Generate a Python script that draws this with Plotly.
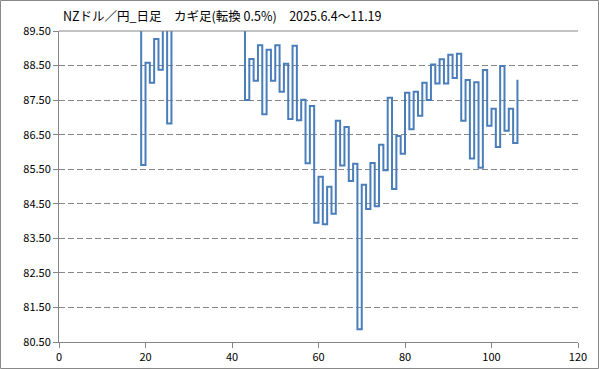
import plotly.graph_objects as go

# Kagi chart columns (x index) and turning levels (values above 89.5 are off-scale, hidden)
cols = [19, 20, 21, 22, 23, 24, 25, 26,
        43, 44, 45, 46, 47, 48, 49, 50, 51, 52, 53, 54, 55, 56, 57, 58, 59, 60,
        61, 62, 63, 64, 65, 66, 67, 68, 69, 70, 71, 72, 73, 74, 75, 76, 77, 78,
        79, 80, 81, 82, 83, 84, 85, 86, 87, 88, 89, 90, 91, 92, 93, 94, 95, 96,
        97, 98, 99, 100, 101, 102, 103, 104, 105, 106]
levels = [85.62, 88.58, 88.00, 89.27, 88.38, 89.90, 86.82, 90.30,
          87.50, 88.69, 88.06, 89.09, 87.09, 88.96, 88.06, 89.09, 87.74, 88.55,
          86.95, 89.07, 86.92, 87.51, 85.67, 87.33, 83.95, 85.28,
          83.91, 84.99, 84.21, 86.90, 85.61, 86.72, 85.16, 85.66, 80.87, 85.05,
          84.35, 85.68, 84.43, 86.21, 85.47, 87.57, 84.93, 86.46,
          85.95, 87.71, 86.66, 87.74, 87.05, 88.00, 87.50, 88.53, 87.98, 88.68,
          87.98, 88.81, 88.14, 88.84, 86.90, 88.08, 85.81, 88.02,
          85.54, 88.37, 86.76, 87.25, 86.14, 88.49, 86.61, 87.25, 86.26, 88.09]
start_level = 90.30

y_ticks = [80.5, 81.5, 82.5, 83.5, 84.5, 85.5, 86.5, 87.5, 88.5, 89.5]
x_ticks = [0, 20, 40, 60, 80, 100, 120]

title_text = "NZドル／円_日足　カギ足(転換 0.5%)　2025.6.4～11.19"

px, py = [], []
prev = start_level
for c, lv in zip(cols, levels):
    px += [c, c]
    py += [prev, lv]
    prev = lv

fig = go.Figure()
fig.add_trace(go.Scatter(x=px, y=py, mode="lines",
                         line=dict(color="#4A7EBB", width=2),
                         hoverinfo="skip", showlegend=False))

W, H = 599, 369
ml, mr, mt, mb = 59, 21, 31, 27
pw, ph = W - ml - mr, H - mt - mb

grid_col = "#868686"
font_family = "Noto Sans CJK JP, Liberation Sans, sans-serif"

fig.update_layout(
    width=W, height=H,
    margin=dict(l=ml, r=mr, t=mt, b=mb, pad=0, autoexpand=False),
    paper_bgcolor="white", plot_bgcolor="white",
    font=dict(family=font_family, size=11, color="#000000"),
    title=dict(text=title_text, x=(63 / W), xanchor="left", xref="container",
               y=1 - 17 / H, yanchor="middle", yref="container",
               font=dict(size=12.5, color="#000000", family=font_family)),
    xaxis=dict(range=[0, 120], tickvals=x_ticks, ticks="outside", ticklen=5,
               tickcolor=grid_col, showline=True, linecolor=grid_col, linewidth=1,
               showgrid=False, zeroline=False, fixedrange=True, automargin=False),
    yaxis=dict(range=[80.5, 89.5], tickvals=y_ticks, tickformat=".2f",
               ticks="outside", ticklen=5, tickcolor=grid_col,
               showline=True, linecolor=grid_col, linewidth=1,
               showgrid=True, gridcolor=grid_col, gridwidth=1, griddash="6px,3px",
               zeroline=False, fixedrange=True, automargin=False),
    shapes=[
        dict(type="line", xref="paper", yref="paper", x0=0, x1=1, y0=1, y1=1,
             line=dict(color=grid_col, width=1)),
        dict(type="rect", xref="paper", yref="paper",
             x0=(0.5 - ml) / pw, x1=(W - 0.5 - ml) / pw,
             y0=(H - mb - (H - 0.5)) / ph, y1=(H - mb - 0.5) / ph,
             line=dict(color="#888888", width=1)),
    ],
)

fig.write_html("out.html",
               config={"displayModeBar": False, "staticPlot": True},
               post_script="document.body.style.margin='0px';document.body.style.overflow='hidden';")
